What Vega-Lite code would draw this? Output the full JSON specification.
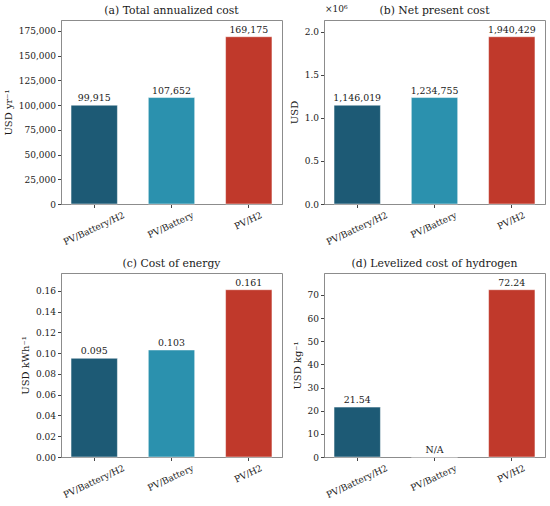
{
  "$schema": "https://vega.github.io/schema/vega-lite/v6.json",
  "padding": {"left": 2, "top": 4, "right": 2, "bottom": 2},
  "background": "white",
  "datasets": {
    "costs": [
      {"panel": "a", "system": "PV/Battery/H2", "value": 99915, "label": "99,915"},
      {"panel": "a", "system": "PV/Battery", "value": 107652, "label": "107,652"},
      {"panel": "a", "system": "PV/H2", "value": 169175, "label": "169,175"},
      {"panel": "b", "system": "PV/Battery/H2", "value": 1146019, "label": "1,146,019"},
      {"panel": "b", "system": "PV/Battery", "value": 1234755, "label": "1,234,755"},
      {"panel": "b", "system": "PV/H2", "value": 1940429, "label": "1,940,429"},
      {"panel": "c", "system": "PV/Battery/H2", "value": 0.095, "label": "0.095"},
      {"panel": "c", "system": "PV/Battery", "value": 0.103, "label": "0.103"},
      {"panel": "c", "system": "PV/H2", "value": 0.161, "label": "0.161"},
      {"panel": "d", "system": "PV/Battery/H2", "value": 21.54, "label": "21.54"},
      {"panel": "d", "system": "PV/Battery", "value": 0, "label": "N/A"},
      {"panel": "d", "system": "PV/H2", "value": 72.24, "label": "72.24"}
    ]
  },
  "columns": 2,
  "bounds": "flush",
  "spacing": {"row": 69, "column": 42},
  "concat": [
    {
      "width": 221, "height": 184,
      "title": "(a) Total annualized cost",
      "data": {"name": "costs"},
      "transform": [{"filter": "datum.panel === 'a'"}],
      "encoding": {
        "x": {"field": "system", "type": "nominal", "sort": ["PV/Battery/H2", "PV/Battery", "PV/H2"], "title": null,
              "scale": {"paddingInner": 0.4, "paddingOuter": 0.13}},
        "y": {"field": "value", "type": "quantitative", "title": "USD yr⁻¹",
              "scale": {"domain": [0, 186092], "nice": false},
              "axis": {"values": [0, 25000, 50000, 75000, 100000, 125000, 150000, 175000], "format": ",.0f"}}
      },
      "layer": [
        {"mark": {"type": "bar", "stroke": "white", "strokeWidth": 0.8, "strokeOpacity": 0.6},
         "encoding": {"color": {"field": "system", "type": "nominal", "legend": null,
           "scale": {"domain": ["PV/Battery/H2", "PV/Battery", "PV/H2"], "range": ["#1d5a75", "#2b91ae", "#c0392b"]}}}},
        {"mark": {"type": "text", "baseline": "bottom", "dy": -2, "font": "DejaVu Serif", "fontSize": 9.4, "color": "#1a1a1a"},
         "encoding": {"text": {"field": "label"}}}
      ]
    },
    {
      "width": 221, "height": 184,
      "title": {"text": "(b) Net present cost", "offset": -11},
      "data": {"name": "costs"},
      "transform": [{"filter": "datum.panel === 'b'"}],
      "encoding": {
        "x": {"field": "system", "type": "nominal", "sort": ["PV/Battery/H2", "PV/Battery", "PV/H2"], "title": null,
              "scale": {"paddingInner": 0.4, "paddingOuter": 0.13}},
        "y": {"field": "value", "type": "quantitative", "title": "USD",
              "scale": {"domain": [0, 2134472], "nice": false},
              "axis": {"values": [0, 500000, 1000000, 1500000, 2000000], "labelExpr": "format(datum.value / 1000000, '.1f')"}}
      },
      "layer": [
        {"mark": {"type": "bar", "stroke": "white", "strokeWidth": 0.8, "strokeOpacity": 0.6},
         "encoding": {"color": {"field": "system", "type": "nominal", "legend": null,
           "scale": {"domain": ["PV/Battery/H2", "PV/Battery", "PV/H2"], "range": ["#1d5a75", "#2b91ae", "#c0392b"]}}}},
        {"mark": {"type": "text", "baseline": "bottom", "dy": -2, "font": "DejaVu Serif", "fontSize": 9.4, "color": "#1a1a1a"},
         "encoding": {"text": {"field": "label"}}},
        {"transform": [{"filter": "datum.system === 'PV/Battery/H2'"}],
         "mark": {"type": "text", "align": "left", "baseline": "bottom", "dx": -9, "dy": -6, "font": "DejaVu Serif", "fontSize": 9, "color": "#1a1a1a"},
         "encoding": {
           "x": {"field": "system", "type": "nominal", "bandPosition": 0},
           "y": {"datum": 2134472},
           "text": {"value": "×10⁶"}
         }}
      ]
    },
    {
      "width": 221, "height": 184,
      "title": "(c) Cost of energy",
      "data": {"name": "costs"},
      "transform": [{"filter": "datum.panel === 'c'"}],
      "encoding": {
        "x": {"field": "system", "type": "nominal", "sort": ["PV/Battery/H2", "PV/Battery", "PV/H2"], "title": null,
              "scale": {"paddingInner": 0.4, "paddingOuter": 0.13}},
        "y": {"field": "value", "type": "quantitative", "title": "USD kWh⁻¹",
              "scale": {"domain": [0, 0.1771], "nice": false},
              "axis": {"values": [0, 0.02, 0.04, 0.06, 0.08, 0.1, 0.12, 0.14, 0.16], "format": ".2f"}}
      },
      "layer": [
        {"mark": {"type": "bar", "stroke": "white", "strokeWidth": 0.8, "strokeOpacity": 0.6},
         "encoding": {"color": {"field": "system", "type": "nominal", "legend": null,
           "scale": {"domain": ["PV/Battery/H2", "PV/Battery", "PV/H2"], "range": ["#1d5a75", "#2b91ae", "#c0392b"]}}}},
        {"mark": {"type": "text", "baseline": "bottom", "dy": -2, "font": "DejaVu Serif", "fontSize": 9.4, "color": "#1a1a1a"},
         "encoding": {"text": {"field": "label"}}}
      ]
    },
    {
      "width": 221, "height": 184,
      "title": "(d) Levelized cost of hydrogen",
      "data": {"name": "costs"},
      "transform": [{"filter": "datum.panel === 'd'"}],
      "encoding": {
        "x": {"field": "system", "type": "nominal", "sort": ["PV/Battery/H2", "PV/Battery", "PV/H2"], "title": null,
              "scale": {"paddingInner": 0.4, "paddingOuter": 0.13}},
        "y": {"field": "value", "type": "quantitative", "title": "USD kg⁻¹",
              "scale": {"domain": [0, 79.46], "nice": false},
              "axis": {"values": [0, 10, 20, 30, 40, 50, 60, 70], "format": "d"}}
      },
      "layer": [
        {"mark": {"type": "bar", "stroke": "white", "strokeWidth": 0.8, "strokeOpacity": 0.6},
         "encoding": {"color": {"field": "system", "type": "nominal", "legend": null,
           "scale": {"domain": ["PV/Battery/H2", "PV/Battery", "PV/H2"], "range": ["#1d5a75", "#2b91ae", "#c0392b"]}}}},
        {"mark": {"type": "text", "baseline": "bottom", "dy": -2, "font": "DejaVu Serif", "fontSize": 9.4, "color": "#1a1a1a"},
         "encoding": {"text": {"field": "label"}}}
      ]
    }
  ],
  "config": {
    "font": "DejaVu Serif",
    "view": {"stroke": "#8c8c8c", "strokeWidth": 1},
    "title": {"font": "DejaVu Serif", "fontSize": 10.8, "fontWeight": "normal", "color": "#1a1a1a", "offset": 4},
    "axis": {
      "grid": false,
      "labelFont": "DejaVu Serif", "labelFontSize": 9, "labelColor": "#1a1a1a",
      "titleFont": "DejaVu Serif", "titleFontSize": 10, "titleFontWeight": "normal", "titleColor": "#1a1a1a",
      "domainColor": "#8c8c8c", "tickColor": "#444", "tickSize": 3.5, "labelPadding": 2, "titlePadding": 5
    },
    "axisX": {
      "labelAngle": -25, "labelAlign": "right", "labelBaseline": "top", "labelPadding": 3,
      "labelOffset": {
        "condition": [
          {"test": "datum.value === 'PV/Battery'", "value": 20},
          {"test": "datum.value === 'PV/Battery/H2'", "value": 28}
        ],
        "value": 11
      }
    }
  }
}
